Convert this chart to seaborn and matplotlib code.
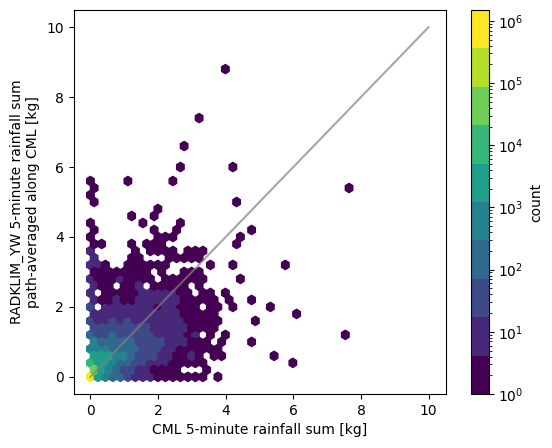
# Hexbin of radar vs CML rainfall sums, rebuilt from counts
import matplotlib
matplotlib.use('Agg')
import matplotlib.pyplot as plt
from matplotlib.colors import LogNorm
import numpy as np
import seaborn as sns

# hexagon lattice: x step, y step
step_x = 0.2217
step_y = 0.4
vmax = 1.5e6
n_colors = 10

# one string per hexagon row from y=0 upwards, every second row is shifted by half a step
# character = colour class of the cell (0 lowest, 9 highest), dot = empty cell
count_rows = [
    "9543321110000000.0",
    "754322110000...0",
    "6554332211100000...........0",
    "555443222110010.00......0",
    "444333322211000000",
    "4333332222111000.0...0",
    "322322222111101.0.0...............0",
    "22222222111110000",
    "2112121111111" "00000....0",
    "111111111111" "00000..........0",
    "2.11111110" "11000.00.0....0",
    "100100111111" "00000.0..0",
    "1.00000" "11111" "00.00.0",
    "100.001.00000.0",
    "100010000.000000....0",
    "00000000.0..000",
    "110..000000.....0..0......0",
    "1....00...00000",
    "1.....0.0000.000",
    "00...0.000.........0",
    "0........000........0",
    "0.......0..0.........0",
    "0......0....0",
    ".....0..0",
    ".........0",
    "0..................0",
    "0",
    "0.................................0",
    "0....0.....0",
    "",
    "............0......0",
    "",
    "",
    "............0",
    "",
    "",
    "",
    "..............0",
    "",
    "",
    "",
    "",
    "",
    "",
    "..................0",
]

line_x = [0, 10]
line_y = [0, 10]
xticks = [0, 2, 4, 6, 8, 10]
yticks = [0, 2, 4, 6, 8, 10]

# turn the rows into cell centres with a count in the middle of its colour class
decade_step = np.log10(vmax) / n_colors
hex_x, hex_y, hex_count = [], [], []
for k, row in enumerate(count_rows):
    for i, c in enumerate(row):
        if c == '.':
            continue
        hex_x.append((i + 0.5 * (k % 2)) * step_x)
        hex_y.append(k * step_y / 2)
        hex_count.append(10 ** ((int(c) + 0.5) * decade_step))

fig = plt.figure(figsize=(5.52, 4.48), dpi=100)
ax = fig.add_axes([73.5 / 552, 54 / 448, 372 / 552, 384 / 448])

hb = ax.hexbin(hex_x, hex_y, C=hex_count, reduce_C_function=np.sum,
               gridsize=(35, 22), extent=(0, 35 * step_x, 0, 22 * step_y),
               cmap=plt.get_cmap('viridis', n_colors), norm=LogNorm(1, vmax))

sns.lineplot(x=line_x, y=line_y, color='gray', alpha=0.7, ax=ax)

ax.set_xlim(-0.5, 10.5)
ax.set_ylim(-0.49, 10.49)
ax.set_xticks(xticks)
ax.set_yticks(yticks)
ax.set_xlabel('CML 5-minute rainfall sum [kg]')
ax.set_ylabel('RADKLIM_YW 5-minute rainfall sum\npath-averaged along CML [kg]', labelpad=4.5)

cax = fig.add_axes([470.5 / 552, 54 / 448, 18 / 552, 384 / 448])
fig.colorbar(hb, cax=cax, label='count')

plt.savefig('out.png', dpi=100)
plt.close()
